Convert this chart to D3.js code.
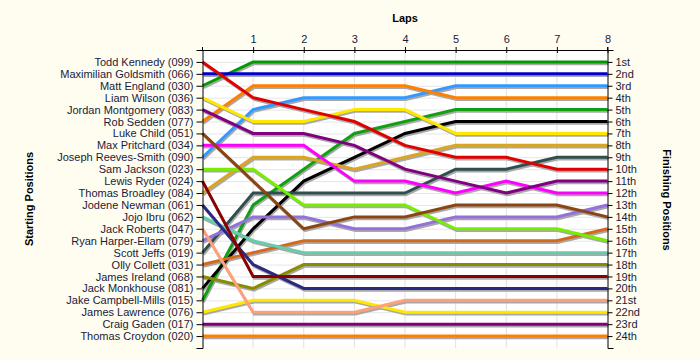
<!DOCTYPE html>
<html><head><meta charset="utf-8">
<script src="https://cdn.jsdelivr.net/npm/d3@7"></script>
<style>
html,body{margin:0;padding:0;background:#fffdf0;}
svg{display:block;}
text{font-family:"Liberation Sans",Arial,sans-serif;}
</style></head>
<body>
<svg id="c" width="700" height="360"></svg>
<script>
const laps = [0,1,2,3,4,5,6,7,8];
const lapTickLabels = ["1","2","3","4","5","6","7","8"];
const drivers = ["Todd Kennedy (099)","Maximilian Goldsmith (066)","Matt England (030)","Liam Wilson (036)","Jordan Montgomery (083)","Rob Sedden (077)","Luke Child (051)","Max Pritchard (034)","Joseph Reeves-Smith (090)","Sam Jackson (023)","Lewis Ryder (024)","Thomas Broadley (084)","Jodene Newman (061)","Jojo Ibru (062)","Jack Roberts (047)","Ryan Harper-Ellam (079)","Scott Jeffs (019)","Olly Collett (031)","James Ireland (068)","Jack Monkhouse (081)","Jake Campbell-Mills (015)","James Lawrence (076)","Craig Gaden (017)","Thomas Croydon (020)"];
const finishLabels = ["1st","2nd","3rd","4th","5th","6th","7th","8th","9th","10th","11th","12th","13th","14th","15th","16th","17th","18th","19th","20th","21st","22nd","23rd","24th"];
const colors = ["#e00000","#0000cc","#009900","#ffe800","#800080","#ff8000","#8b4513","#ff00ff","#3399ff","#77ee00","#8b0000","#daa520","#2a2a80","#66cdaa","#ffa07a","#9370db","#2f4f4f","#d2691e","#8b8b00","#000000","#11a011","#ffe800","#800080","#ff8000"];
const positions = [
 [1,4,5,6,8,9,9,10,10],
 [2,2,2,2,2,2,2,2,2],
 [3,1,1,1,1,1,1,1,1],
 [4,6,6,5,5,7,7,7,7],
 [5,7,7,8,10,11,12,11,11],
 [6,3,3,3,3,4,4,4,4],
 [7,11,15,14,14,13,13,13,14],
 [8,8,8,11,11,12,11,12,12],
 [9,5,4,4,4,3,3,3,3],
 [10,10,13,13,13,15,15,15,16],
 [11,19,19,19,19,19,19,19,19],
 [12,9,9,10,9,8,8,8,8],
 [13,18,20,20,20,20,20,20,20],
 [14,16,17,17,17,17,17,17,17],
 [15,22,22,22,21,21,21,21,21],
 [16,14,14,15,15,14,14,14,13],
 [17,12,12,12,12,10,10,9,9],
 [18,17,16,16,16,16,16,16,15],
 [19,20,18,18,18,18,18,18,18],
 [20,15,11,9,7,6,6,6,6],
 [21,13,10,7,6,5,5,5,5],
 [22,21,21,21,22,22,22,22,22],
 [23,23,23,23,23,23,23,23,23],
 [24,24,24,24,24,24,24,24,24]
];

const svg = d3.select("#c");
const x = d3.scaleLinear().domain([0,8]).range([202.5,607.5]);
const y = d3.scaleLinear().domain([0,25]).range([50,348]);
const posTicks = d3.range(1,25);
const textCol = "#1a1a3a";

svg.append("rect").attr("x",x(0)).attr("y",y(0)).attr("width",x(8)-x(0)).attr("height",y(25)-y(0)).attr("fill","#ffffff");

const g = svg.append("g");
g.selectAll(".hg").data(posTicks).join("line")
  .attr("x1",x(0)).attr("x2",x(8)).attr("y1",d=>y(d)+0.5).attr("y2",d=>y(d)+0.5)
  .attr("stroke","#e6e6e6").attr("stroke-width",1);
g.selectAll(".vg").data(laps.slice(1,8)).join("line")
  .attr("x1",d=>x(d)).attr("x2",d=>x(d)).attr("y1",y(0)).attr("y2",y(25))
  .attr("stroke","#e0e0e0").attr("stroke-width",1);

const lineGen = d3.line().x((d,i)=>x(laps[i])).y(d=>y(d));
const shadows = svg.append("g").attr("transform","translate(1,2)");
shadows.selectAll("path").data(positions).join("path")
  .attr("d",lineGen).attr("fill","none").attr("stroke","#a8a8a8").attr("stroke-width",2.5);
const linesG = svg.append("g");
linesG.selectAll("path").data(positions.map((p,i)=>({p,i})).reverse()).join("path")
  .attr("d",d=>lineGen(d.p)).attr("fill","none").attr("stroke",d=>colors[d.i]).attr("stroke-width",3);

const leftAxis = d3.axisLeft(y).tickValues(posTicks).tickFormat(d=>drivers[d-1]).tickSizeInner(6).tickSizeOuter(6).tickPadding(3);
const la = svg.append("g").attr("transform",`translate(${x(0)},0)`).call(leftAxis);
const rightAxis = d3.axisRight(y).tickValues(posTicks).tickFormat(d=>finishLabels[d-1]).tickSizeInner(5).tickSizeOuter(6).tickPadding(3);
const ra = svg.append("g").attr("transform",`translate(${x(8)},0)`).call(rightAxis);
const topAxis = d3.axisTop(x).tickValues(laps.slice(1)).tickFormat((d,i)=>lapTickLabels[i]).tickSizeInner(3).tickSizeOuter(0).tickPadding(4);
const ta = svg.append("g").attr("transform",`translate(0,${y(0)})`).call(topAxis);
ta.selectAll(".tick line").attr("y2",-3).attr("y1",3);
svg.append("line").attr("x1",x(0)).attr("x2",x(0)).attr("y1",y(0)-3).attr("y2",y(0)).attr("stroke","#000");
svg.append("line").attr("x1",x(8)).attr("x2",x(8)).attr("y1",y(0)-3).attr("y2",y(0)).attr("stroke","#000");

[la,ra,ta].forEach(a=>{
  a.selectAll("text").attr("font-size",11).attr("fill",textCol).style("font-family",'"Liberation Sans",Arial,sans-serif');
  a.selectAll("line,path").attr("stroke","#000");
});

svg.append("text").attr("x",405).attr("y",22).attr("text-anchor","middle").attr("font-size",11).attr("font-weight","bold").attr("fill","#000").text("Laps");
svg.append("text").attr("transform","translate(33,199) rotate(-90)").attr("text-anchor","middle").attr("font-size",11).attr("font-weight","bold").attr("fill","#000").text("Starting Positions");
svg.append("text").attr("transform","translate(663,200) rotate(90)").attr("text-anchor","middle").attr("font-size",11).attr("font-weight","bold").attr("fill","#000").text("Finishing Positions");
</script>
</body></html>
